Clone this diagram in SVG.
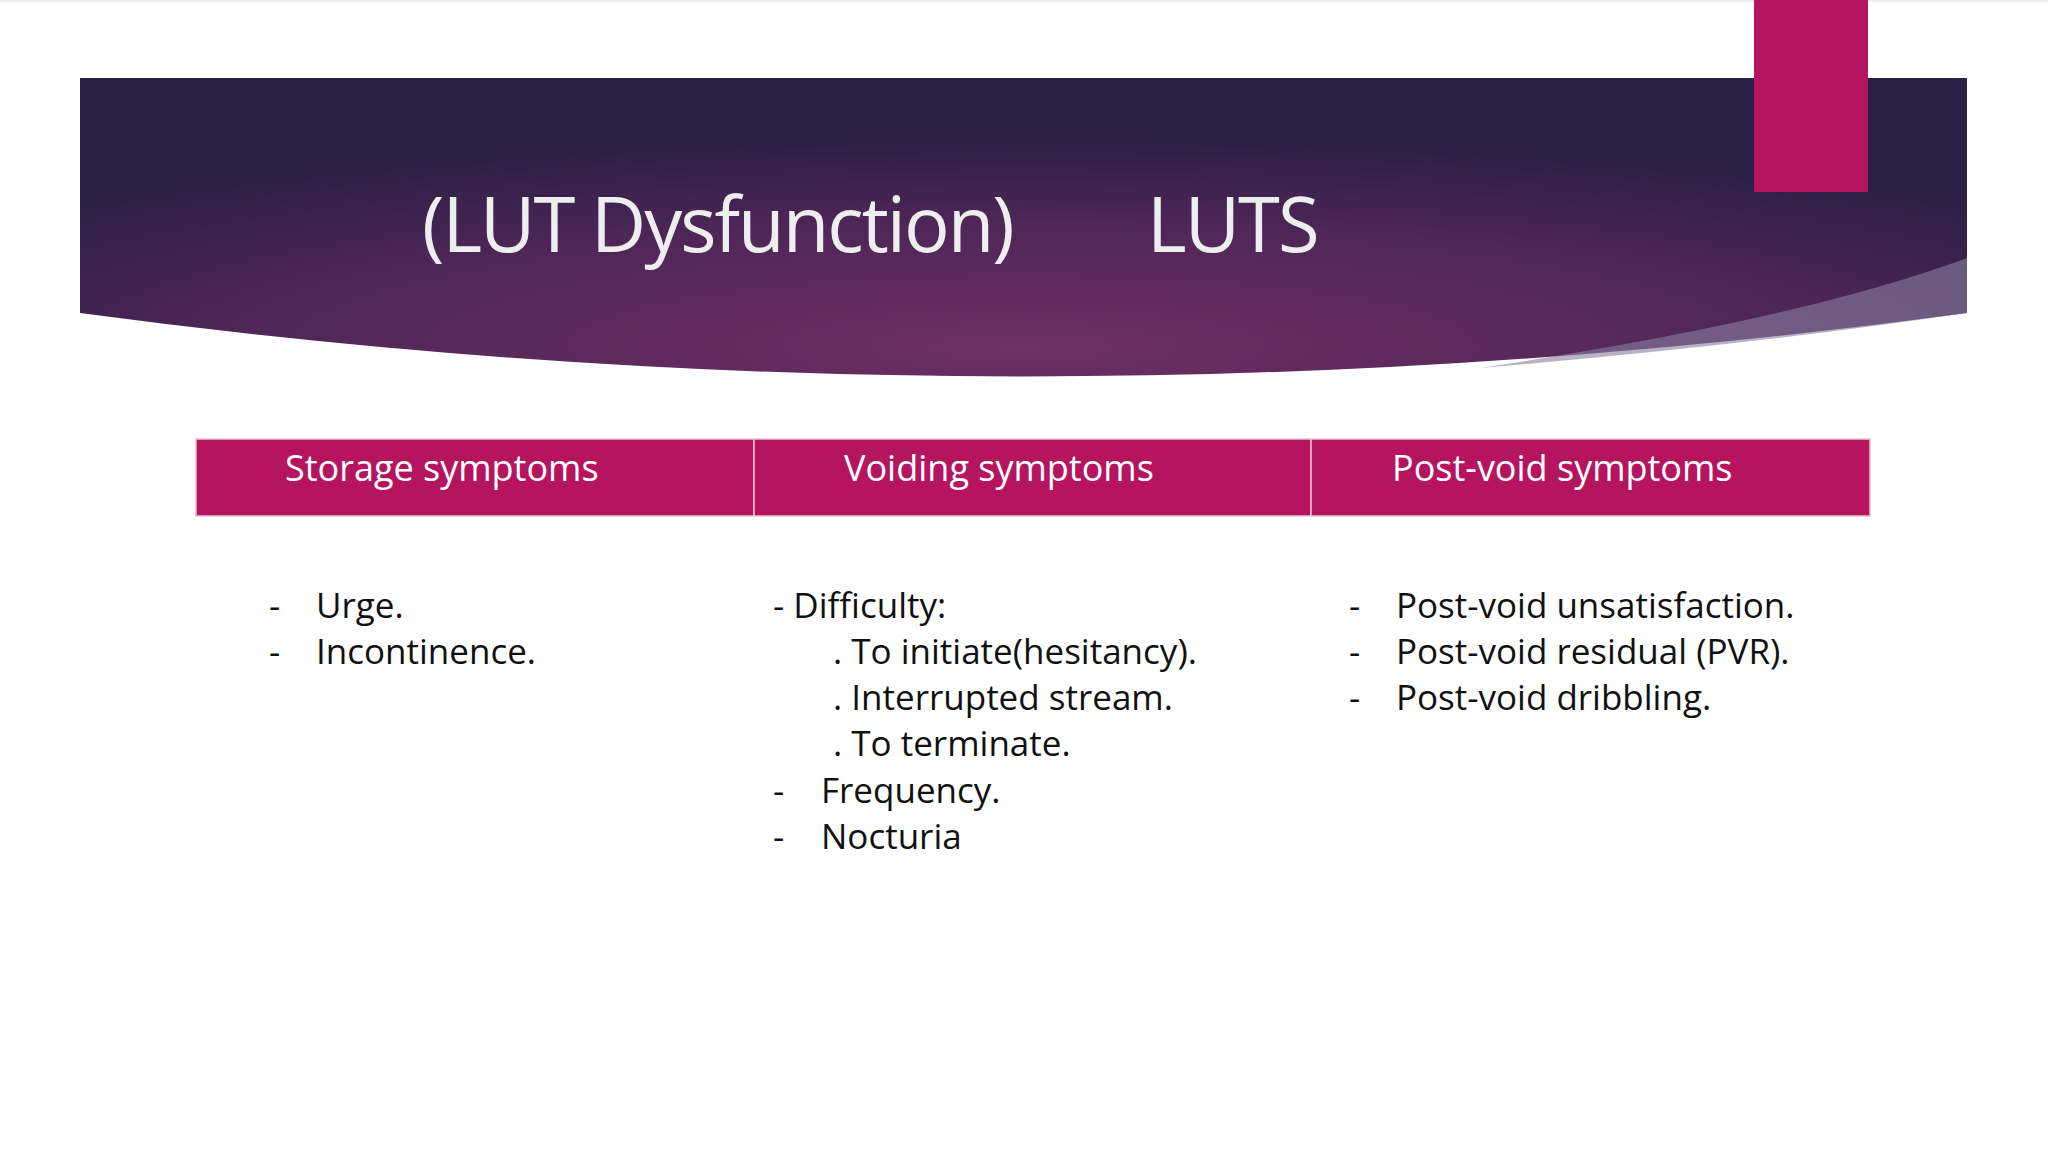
<svg xmlns="http://www.w3.org/2000/svg" width="2048" height="1152" viewBox="0 0 2048 1152">
<defs>
<radialGradient id="bg" cx="0.5" cy="0.9" r="0.7">
<stop offset="0" stop-color="#6e2f66"/>
<stop offset="0.6" stop-color="#4e2657"/>
<stop offset="1" stop-color="#2a1f45"/>
</radialGradient>
<style>
.h{font-family:"Open Sans","Noto Sans",sans-serif;font-size:36px;fill:#fff}
.b{font-family:"Open Sans","Noto Sans",sans-serif;font-size:35px;fill:#111}
.t{font-family:"Open Sans","Noto Sans",sans-serif;font-size:76px;fill:#eee}
.c{fill:#b5155f;stroke:#e8c3d3;stroke-width:1.5}
</style>
</defs>
<rect width="2048" height="1152" fill="#fff"/>
<line x1="0" y1="1" x2="2048" y2="1" stroke="#ddd"/>
<g id="banner">
<path d="M80 78 H1967 V313 Q1024 440 80 313 Z" fill="url(#bg)"/>
<path d="M1480 368 Q1800 320 1967 258 V313 Q1750 345 1480 368 Z" fill="#8a7fa0" opacity="0.6"/>
<rect x="1754" y="0" width="114" height="192" fill="#b5155f"/>
<text class="t" x="422" y="252" letter-spacing="-2">(LUT Dysfunction)</text>
<text class="t" x="1147" y="252" letter-spacing="-2">LUTS</text>
</g>
<g id="header">
<rect class="c" x="196" y="439" width="558" height="77"/>
<rect class="c" x="754" y="439" width="557" height="77"/>
<rect class="c" x="1311" y="439" width="559" height="77"/>
<text class="h" x="285" y="481">Storage symptoms</text>
<text class="h" x="844" y="481">Voiding symptoms</text>
<text class="h" x="1392" y="481">Post-void symptoms</text>
</g>
<g id="storage" class="b">
<text x="269" y="618">-</text><text x="316" y="618">Urge.</text>
<text x="269" y="664">-</text><text x="316" y="664">Incontinence.</text>
</g>
<g id="voiding" class="b">
<text x="773" y="618">- Difficulty:</text>
<text x="833" y="664">. To initiate(hesitancy).</text>
<text x="833" y="710">. Interrupted stream.</text>
<text x="833" y="756">. To terminate.</text>
<text x="773" y="803">-</text><text x="821" y="803">Frequency.</text>
<text x="773" y="849">-</text><text x="821" y="849">Nocturia</text>
</g>
<g id="postvoid" class="b">
<text x="1349" y="618">-</text><text x="1396" y="618">Post-void unsatisfaction.</text>
<text x="1349" y="664">-</text><text x="1396" y="664">Post-void residual (PVR).</text>
<text x="1349" y="710">-</text><text x="1396" y="710">Post-void dribbling.</text>
</g>
<g id="connectors"/>
</svg>
